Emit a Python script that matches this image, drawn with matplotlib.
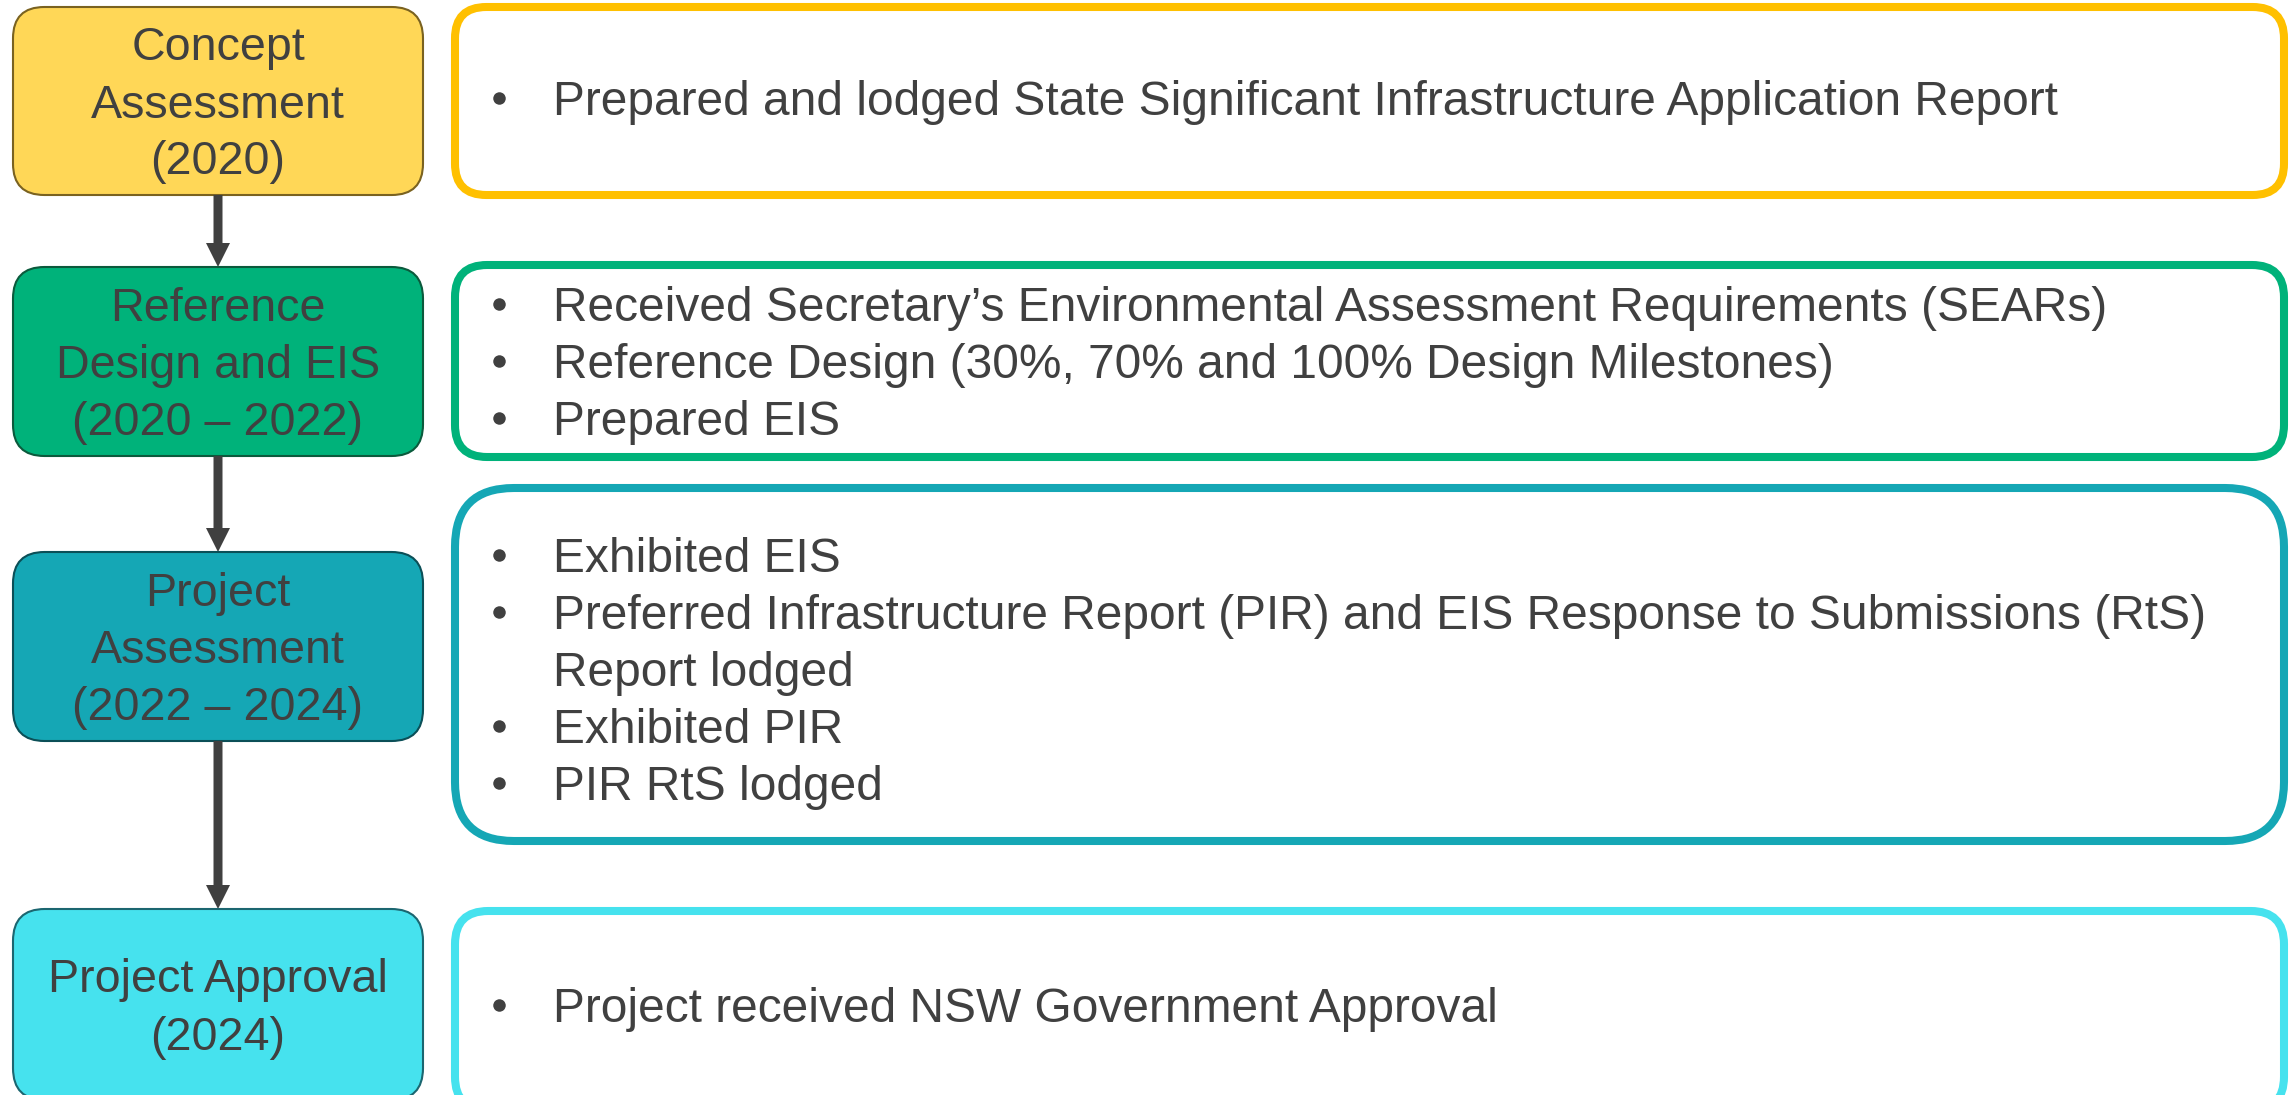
import matplotlib.pyplot as plt
from matplotlib.patches import FancyBboxPatch, FancyArrow

plt.rcParams['font.family'] = ['Liberation Sans', 'DejaVu Sans']

# stages (left column)
stage_labels = [
    ['Concept', 'Assessment', '(2020)'],
    ['Reference', 'Design and EIS', '(2020 \u2013 2022)'],
    ['Project', 'Assessment', '(2022 \u2013 2024)'],
    ['Project Approval', '(2024)'],
]
stage_fill = ['#FFD757', '#00B27A', '#15A7B5', '#46E2EE']
stage_edge = ['#7A6220', '#0B5A3C', '#0B4F57', '#1B6670']
detail_edge = ['#FFC000', '#00B27A', '#15A7B5', '#46E2EE']

# bullet lines (right column); False = wrapped line, no bullet
details = [
    [(True, 'Prepared and lodged State Significant Infrastructure Application Report')],
    [(True, 'Received Secretary\u2019s Environmental Assessment Requirements (SEARs)'),
     (True, 'Reference Design (30%, 70% and 100% Design Milestones)'),
     (True, 'Prepared EIS')],
    [(True, 'Exhibited EIS'),
     (True, 'Preferred Infrastructure Report (PIR) and EIS Response to Submissions (RtS)'),
     (False, 'Report lodged'),
     (True, 'Exhibited PIR'),
     (True, 'PIR RtS lodged')],
    [(True, 'Project received NSW Government Approval')],
]

# layout in pixels
W, H = 2295, 1095
left_x0, left_x1 = 13, 423
left_y = [(7, 195), (267, 456), (552, 741), (909, 1100)]
right_x0, right_x1 = 455, 2284
right_y = [(7, 195), (265, 457), (488, 841), (911, 1110)]
right_first_base = [115, 321, 572, 1022]
line_step = 57
txt_color = '#404040'
fs = 34.5
fs_left = 33.6

fig = plt.figure(figsize=(W / 100, H / 100), dpi=100)
ax = fig.add_axes([0, 0, 1, 1])
ax.set_xlim(0, W)
ax.set_ylim(H, 0)
ax.axis('off')

for i in range(4):
    # left stage box
    y0, y1 = left_y[i]
    r = min(left_x1 - left_x0, y1 - y0) / 6
    ax.add_patch(FancyBboxPatch((left_x0, y0), left_x1 - left_x0, y1 - y0,
                                boxstyle=f'round,pad=0,rounding_size={r}',
                                fc=stage_fill[i], ec=stage_edge[i], lw=1.5))
    cx = (left_x0 + left_x1) / 2
    cy = (y0 + y1) / 2
    n = len(stage_labels[i])
    for j, line in enumerate(stage_labels[i]):
        yb = cy + (j - (n - 1) / 2) * line_step + 16.5
        ax.text(cx, yb, line, ha='center', va='baseline', fontsize=fs_left, color=txt_color)

    # right detail box
    y0, y1 = right_y[i]
    r = min(right_x1 - right_x0, y1 - y0) / 6
    ax.add_patch(FancyBboxPatch((right_x0, y0), right_x1 - right_x0, y1 - y0,
                                boxstyle=f'round,pad=0,rounding_size={r}',
                                fc='white', ec=detail_edge[i], lw=5.8))
    for j, (bullet, line) in enumerate(details[i]):
        yb = right_first_base[i] + j * line_step
        if bullet:
            ax.plot(499, yb - 17, 'o', ms=9, color=txt_color, mew=0)
        ax.text(553, yb, line, ha='left', va='baseline', fontsize=fs, color=txt_color)

    # arrow to next stage
    if i < 3:
        ya = left_y[i][1]
        yb = left_y[i + 1][0]
        ax.add_patch(FancyArrow(218, ya, 0, yb - ya, width=9, head_width=24, head_length=24,
                                length_includes_head=True, fc='#404040', ec='#404040', lw=0))

fig.savefig('out.png', dpi=100)
